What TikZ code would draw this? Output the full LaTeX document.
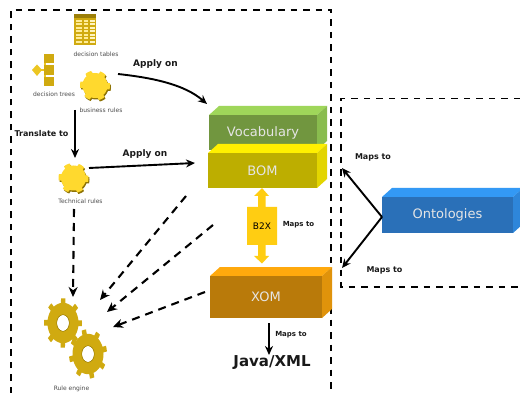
\documentclass[tikz,border=0pt]{standalone}
\usepackage{fontspec}
\setmainfont{DejaVu Sans}
\usepackage{xcolor}
\usetikzlibrary{calc, arrows.meta}

\definecolor{vocabfront}{HTML}{71963F}
\definecolor{vocabtop}{HTML}{9FD65A}
\definecolor{vocabside}{HTML}{89BC4E}
\definecolor{bomfront}{HTML}{BDAE00}
\definecolor{bomtop}{HTML}{FFF000}
\definecolor{bomside}{HTML}{E3D500}
\definecolor{xomfront}{HTML}{B97A0A}
\definecolor{xomtop}{HTML}{FFA90D}
\definecolor{xomside}{HTML}{E0930B}
\definecolor{ontofront}{HTML}{2A70B8}
\definecolor{ontotop}{HTML}{3399F5}
\definecolor{ontoside}{HTML}{2E86DA}
\definecolor{gearlight}{HTML}{FFD92E}
\definecolor{geargold}{HTML}{D0AA10}
\definecolor{geardark}{HTML}{8F7406}
\definecolor{bridge}{HTML}{FFCD12}

\tikzset{
	frame/.style = {line width = 1.5pt, dash pattern = on 6.5pt off 6pt},
	flow/.style = {line width = 1.9pt, -{Stealth[length = 9pt, width = 8pt]}},
	flowdash/.style = {line width = 2.1pt, dash pattern = on 8pt off 6pt, -{Stealth[length = 10pt, width = 9pt]}},
	tag/.style = {font = \fontsize{9}{10}\selectfont\bfseries, text = black!90, inner sep = 0pt},
	smalltag/.style = {font = \fontsize{7}{8}\selectfont\bfseries, text = black!90, inner sep = 0pt},
	sidetag/.style = {font = \fontsize{8}{9}\selectfont\bfseries, text = black!90, inner sep = 0pt},
	bigtag/.style = {font = \fontsize{15}{17}\selectfont\bfseries, text = black!90, inner sep = 0pt},
	icontext/.style = {font = \fontsize{6}{7}\selectfont, text = black!70, inner sep = 0pt},
	boxtext/.style = {font = \fontsize{13}{15}\selectfont, text = white!90!black, inner sep = 0pt}
}

% #1 name, #2 left, #3 top, #4 right, #5 bottom, #6 front, #7 top, #8 side, #9 label
\newcommand{\cuboid}[9]{
	\fill [#7] (#2,#3) -- ++(10,-9) -- (#4+10,#3-9) -- (#4,#3) -- cycle;
	\fill [#8] (#4,#3) -- ++(10,-9) -- (#4+10,#5-9) -- (#4,#5) -- cycle;
	\fill [#6] (#2,#3) rectangle (#4,#5);
	\node [boxtext] (#1) at ({(#2+#4)/2},{(#3+#5)/2}) {#9};
}

% #1 colour, #2 centre x, #3 centre y
\newcommand{\blobpart}[3]{
	\fill [#1] plot [samples = 121, domain = 0:360] ({#2+(12.5+2.5*(mod(\x+10,60)<26))*cos(\x)},{#3+(12.5+2.5*(mod(\x+10,60)<26))*sin(\x)}) -- cycle;
}

% #1 centre x, #2 centre y, #3 turn
\newcommand{\cogwheel}[3]{
	\fill [geargold] plot [samples = 241, domain = 0:360] ({#1+(15.5+3.5*(mod(\x+#3,45)<15))*cos(\x)},{#2+1.3*(15.5+3.5*(mod(\x+#3,45)<15))*sin(\x)}) -- cycle;
	\fill [white] (#1,#2) ellipse (6 and 8);
	\draw [geardark, line width = 0.4pt] (#1,#2) ellipse (6.3 and 8.3);
}

\begin{document}
\begin{tikzpicture}[x = 1pt, y = -1pt]
	\useasboundingbox [fill = white] (0,0) rectangle (520,393);

	% dashed frames
	\coordinate (leftA) at (11,393);
	\coordinate (leftB) at (11,10);
	\coordinate (leftC) at (331,10);
	\coordinate (leftD) at (331,393);
	\draw [frame] (leftA) -- (leftB) -- (leftC) -- (leftD);

	\coordinate (rightA) at (520,98.5);
	\coordinate (rightB) at (341,98.5);
	\coordinate (rightC) at (341,287);
	\coordinate (rightD) at (520,287);
	\draw [frame] (rightA) -- (rightB) -- (rightC) -- (rightD);

	% boxes
	\cuboid{vocabulary}{209}{115}{317}{150}{vocabfront}{vocabtop}{vocabside}{Vocabulary}
	\cuboid{bom}{208}{153}{317}{188}{bomfront}{bomtop}{bomside}{BOM}
	\cuboid{xom}{210}{276}{322}{318}{xomfront}{xomtop}{xomside}{XOM}
	\cuboid{ontologies}{382}{197}{513}{233}{ontofront}{ontotop}{ontoside}{Ontologies}

	% bridge between BOM and XOM
	\fill [bridge] (262,188) -- (269,196) -- (265.5,196) -- (265.5,207) -- (277,207) -- (277,245) -- (265.5,245) -- (265.5,256) -- (269,256) -- (262,263.5) -- (254,256) -- (258,256) -- (258,245) -- (247,245) -- (247,207) -- (258,207) -- (258,196) -- (254,196) -- cycle;
	\node [inner sep = 0pt, font = \fontsize{9}{10}\selectfont] (bridgetext) at (262,226) {B2X};

	% decision table
	\fill [geargold] (74,14) rectangle (96,45);
	\fill [geardark!80!geargold] (74,14) rectangle (96,18);
	\foreach \r in {20,23.5,...,41} {
		\fill [gearlight!50!white] (76,\r) rectangle (82,\r+2);
		\fill [gearlight!50!white] (83.5,\r) rectangle (88,\r+2);
		\fill [white!70!gearlight] (89.5,\r) rectangle (94.5,\r+2);
	}
	\node [icontext] (tables) at (96,54) {decision tables};

	% decision tree
	\fill [gearlight!60!geargold] (37,64.5) -- (42,70) -- (37,76) -- (32,70) -- cycle;
	\fill [gearlight!60!geargold] (38,69) rectangle (46,71);
	\fill [gearlight!60!geargold] (44,58) rectangle (46,83);
	\fill [geargold] (44,54) rectangle (54,63);
	\fill [geargold] (44,65.5) rectangle (54,75);
	\fill [geargold] (44,77) rectangle (54,86);
	\node [icontext] (trees) at (54,94) {decision trees};

	% rule icons
	\blobpart{geardark}{96}{87}
	\blobpart{gearlight}{95}{85.5}
	\node [icontext] (business) at (101,110.5) {business rules};
	\blobpart{geardark}{74.5}{179.5}
	\blobpart{gearlight}{73.5}{178}
	\node [icontext] (technical) at (80.5,201) {Technical rules};

	% rule engine
	\cogwheel{63}{323}{7}
	\cogwheel{88}{354}{20}
	\node [icontext] (engine) at (71.5,389) {Rule engine};

	% connector ends
	\coordinate (applyA) at (118,74);
	\coordinate (applyB) at (207,104);
	\coordinate (translateA) at (75,110);
	\coordinate (translateB) at (75,158);
	\coordinate (applyC) at (89,168);
	\coordinate (applyD) at (195,163);
	\coordinate (techA) at (74,209);
	\coordinate (techB) at (73,297);
	\coordinate (bomA) at (186,196);
	\coordinate (bomB) at (100,300);
	\coordinate (bomC) at (213,225);
	\coordinate (bomD) at (107,312);
	\coordinate (xomA) at (205,292);
	\coordinate (xomB) at (113,327);
	\coordinate (xomC) at (269,323);
	\coordinate (xomD) at (269,355);
	\coordinate (ontoA) at (382,217);
	\coordinate (ontoB) at (342,168);
	\coordinate (ontoC) at (342,268);

	\begin{scope}
		\draw [flow] (applyA) .. controls (155,78) and (185,85) .. (applyB);
		\draw [flow] (translateA) -- (translateB);
		\draw [flow] (applyC) -- (applyD);
		\draw [flow] (xomC) -- (xomD);
		\draw [flow] (ontoA) -- (ontoB);
		\draw [flow] (ontoA) -- (ontoC);
	\end{scope}

	\begin{scope}
		\draw [flowdash] (techA) -- (techB);
		\draw [flowdash] (bomA) -- (bomB);
		\draw [flowdash] (bomC) -- (bomD);
		\draw [flowdash] (xomA) -- (xomB);
	\end{scope}

	% labels
	\node [tag] (applytop) at (155.5,64) {Apply on};
	\node [sidetag] (translate) at (41.5,134) {Translate to};
	\node [tag] (applylow) at (145,154) {Apply on};
	\node [smalltag] (mapsbridge) at (298.5,224.5) {Maps to};
	\node [smalltag] (mapsxom) at (291,335) {Maps to};
	\node [sidetag] (mapsup) at (373,157) {Maps to};
	\node [sidetag] (mapsdown) at (384.5,270) {Maps to};
	\node [bigtag] (java) at (272,362.5) {Java/XML};
\end{tikzpicture}
\end{document}
